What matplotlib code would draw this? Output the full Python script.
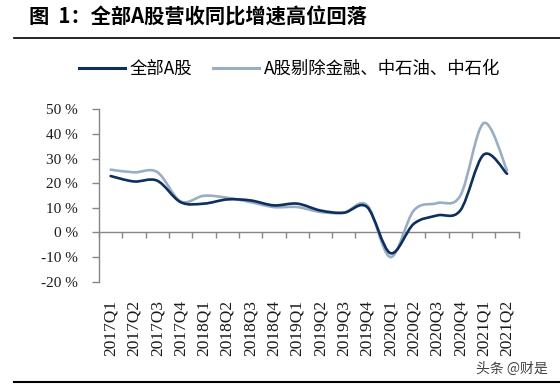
import numpy as np
import matplotlib
matplotlib.use("Agg")
import matplotlib.pyplot as plt
from matplotlib.path import Path
from matplotlib.patches import PathPatch
from matplotlib.lines import Line2D

plt.rcParams['font.family'] = ['Noto Sans CJK SC', 'DejaVu Sans']

# ---------------- data ----------------
title = "图  1：全部A股营收同比增速高位回落"
quarters = ["2017Q1", "2017Q2", "2017Q3", "2017Q4",
            "2018Q1", "2018Q2", "2018Q3", "2018Q4",
            "2019Q1", "2019Q2", "2019Q3", "2019Q4",
            "2020Q1", "2020Q2", "2020Q3", "2020Q4",
            "2021Q1", "2021Q2"]
name_all = "全部A股"
name_ex = "A股剔除金融、中石油、中石化"
series_all = [22.9, 20.7, 21.0, 12.3, 11.7, 13.4, 13.0, 11.0, 11.7, 8.9,
              8.0, 10.3, -8.4, 3.5, 6.9, 9.0, 31.6, 23.8]
series_ex = [25.5, 24.4, 24.5, 12.6, 14.9, 14.1, 12.3, 10.3, 10.3, 8.3,
             8.0, 11.0, -10.0, 8.9, 11.9, 15.0, 44.4, 25.2]
y_ticks = [-20, -10, 0, 10, 20, 30, 40, 50]
y_tick_labels = [f"{v} %" for v in y_ticks]
watermark = "头条 @财是"

# ---------------- style ----------------
W, H = 560, 388
dark = "#0c2f5e"
light = "#9aaec3"
gray = "#868686"
ymin, ymax = -20, 50


def smooth_path(xs, ys):
    pts = np.column_stack([np.asarray(xs, float), np.asarray(ys, float)])
    n = len(pts)
    verts = [pts[0]]
    codes = [Path.MOVETO]
    for i in range(n - 1):
        p0 = pts[i - 1] if i > 0 else pts[i]
        p1 = pts[i]
        p2 = pts[i + 1]
        p3 = pts[i + 2] if i + 2 < n else pts[i + 1]
        c1 = p1 + (p2 - p0) / 6.0
        c2 = p2 - (p3 - p1) / 6.0
        verts += [c1, c2, p2]
        codes += [Path.CURVE4] * 3
    return Path(verts, codes)


fig = plt.figure(figsize=(W / 100, H / 100), dpi=100)
ax = fig.add_axes([99 / W, 1 - 281.7 / H, (518.7 - 99) / W, (281.7 - 109.3) / H])

x = np.arange(len(quarters))
ax.add_patch(PathPatch(smooth_path(x, series_ex), fill=False, edgecolor=light,
                       lw=1.9, capstyle='round', joinstyle='round', zorder=3))
ax.add_patch(PathPatch(smooth_path(x, series_all), fill=False, edgecolor=dark,
                       lw=1.9, capstyle='round', joinstyle='round', zorder=4))

ax.set_xlim(-0.5, len(quarters) - 0.5)
ax.set_ylim(ymin, ymax)

for s in ['top', 'right', 'bottom']:
    ax.spines[s].set_visible(False)
ax.spines['left'].set_color(gray)
ax.spines['left'].set_linewidth(1.0)

ax.set_yticks(y_ticks, y_tick_labels, fontfamily='Liberation Serif', fontsize=11)
ax.tick_params(axis='y', direction='out', length=5, width=1.0, color=gray,
               pad=10, labelcolor='#1a1a1a')
ax.set_xticks(x, quarters, rotation=90, fontfamily='Liberation Serif', fontsize=12.5)
ax.tick_params(axis='x', length=0, pad=13, labelcolor='#1a1a1a')

# zero axis with category-boundary ticks
sec = ax.secondary_xaxis((0 - ymin) / (ymax - ymin))
sec.set_xticks(np.arange(-0.5, len(quarters), 1.0))
sec.tick_params(axis='x', direction='out', length=4, width=1.0, color=gray,
                labelbottom=False, labeltop=False)
for s in sec.spines.values():
    s.set_color(gray)
    s.set_linewidth(1.0)

# legend
handles = [Line2D([], [], color=dark, lw=2.2), Line2D([], [], color=light, lw=2.2)]
fig.legend(handles, [name_all, name_ex], loc='center',
           bbox_to_anchor=(289.5 / W, 1 - 69 / H), ncol=2, frameon=False,
           fontsize=12.5, handlelength=2.65, handletextpad=0.3,
           columnspacing=1.15, borderaxespad=0, borderpad=0)

# title and rules
fig.text(29 / W, 1 - 17 / H, title, fontsize=14.6, fontweight='bold',
         ha='left', va='center', color='black')
fig.add_artist(Line2D([14 / W, 1.0], [1 - 38 / H, 1 - 38 / H], color='black',
                      lw=1.2, transform=fig.transFigure))
fig.add_artist(Line2D([14 / W, 1.0], [1 - 381.5 / H, 1 - 381.5 / H], color='black',
                      lw=1.5, transform=fig.transFigure))
fig.text(548 / W, 1 - 369 / H, watermark, fontsize=10, ha='right', va='center',
         color='#444444')

fig.savefig("out.png", dpi=100)
